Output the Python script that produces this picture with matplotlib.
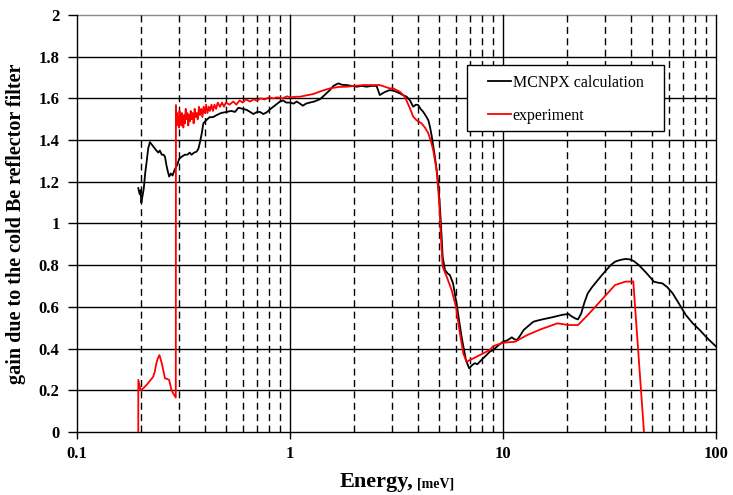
import matplotlib
matplotlib.use("Agg")
import matplotlib.pyplot as plt
from matplotlib.patches import Rectangle
from matplotlib.ticker import FixedLocator, NullFormatter

# MCNPX calculation: energy [meV] and gain
mcnpx_energy = [
    0.194, 0.197, 0.199, 0.2005, 0.203, 0.206, 0.209, 0.212, 0.216, 0.220,
    0.224, 0.228, 0.232, 0.236, 0.241, 0.245, 0.250, 0.255, 0.259, 0.263,
    0.267, 0.271, 0.276, 0.281, 0.288, 0.295, 0.302, 0.310, 0.321, 0.330,
    0.338, 0.345, 0.355, 0.365, 0.372, 0.378, 0.385, 0.392, 0.400, 0.409,
    0.420, 0.435, 0.453, 0.475, 0.504, 0.53, 0.552, 0.572, 0.60, 0.626,
    0.65, 0.673, 0.70, 0.723, 0.75, 0.777, 0.80, 0.835, 0.87, 0.898,
    0.93, 0.96, 1.0, 1.04, 1.075, 1.114, 1.15, 1.19, 1.24, 1.30,
    1.383, 1.45, 1.54, 1.60, 1.686, 1.76, 1.846, 1.95, 2.06, 2.17,
    2.29, 2.42, 2.55, 2.64, 2.78, 2.94, 3.1, 3.28, 3.4, 3.53,
    3.66, 3.79, 3.90, 4.0, 4.1, 4.22, 4.35, 4.46, 4.54, 4.62,
    4.79, 4.97, 5.10, 5.21, 5.34, 5.5, 5.63, 5.83, 6.05, 6.39,
    6.70, 6.94, 7.15, 7.38, 7.58, 7.78, 8.0, 8.37, 8.66, 9.0,
    9.5, 10.0, 10.5, 11.0, 11.3, 11.64, 12.0, 12.5, 13.2, 13.9,
    14.6, 15.3, 16.15, 17.0, 18.0, 19.0, 20.3, 20.9, 21.8, 22.5,
    23.3, 24.1, 25.0, 26.2, 27.5, 29.0, 30.6, 32.0, 33.6, 35.5,
    37.5, 39.3, 41.1, 43.5, 46.5, 48.8, 51.1, 53.5, 56.0, 59.0,
    62.6, 67.0, 72.2, 77.5, 83.9, 91.0, 100.0,
]
mcnpx_gain = [
    1.17, 1.14, 1.16, 1.10, 1.13, 1.17, 1.24, 1.29, 1.36, 1.39,
    1.38, 1.37, 1.36, 1.35, 1.34, 1.35, 1.33, 1.33, 1.32, 1.28,
    1.25, 1.225, 1.24, 1.23, 1.26, 1.28, 1.31, 1.32, 1.33, 1.33,
    1.34, 1.33, 1.34, 1.345, 1.36, 1.39, 1.43, 1.48, 1.49, 1.50,
    1.51, 1.51, 1.52, 1.53, 1.535, 1.54, 1.535, 1.555, 1.55, 1.545,
    1.535, 1.525, 1.535, 1.535, 1.525, 1.533, 1.545, 1.56, 1.575, 1.585,
    1.59, 1.58, 1.58, 1.575, 1.585, 1.575, 1.565, 1.575, 1.58, 1.585,
    1.596, 1.615, 1.64, 1.66, 1.672, 1.665, 1.664, 1.66, 1.656, 1.66,
    1.656, 1.66, 1.66, 1.616, 1.63, 1.64, 1.635, 1.624, 1.615, 1.608,
    1.59, 1.56, 1.57, 1.568, 1.55, 1.536, 1.515, 1.496, 1.464, 1.424,
    1.32, 1.193, 1.017, 0.84, 0.777, 0.76, 0.753, 0.713, 0.617, 0.457,
    0.345, 0.305, 0.32, 0.33, 0.325, 0.337, 0.35, 0.369, 0.385, 0.393,
    0.415, 0.433, 0.44, 0.454, 0.445, 0.441, 0.46, 0.489, 0.51, 0.529,
    0.535, 0.54, 0.545, 0.55, 0.556, 0.562, 0.566, 0.556, 0.545, 0.54,
    0.569, 0.62, 0.665, 0.695, 0.721, 0.75, 0.777, 0.80, 0.817, 0.825,
    0.83, 0.828, 0.82, 0.80, 0.769, 0.745, 0.721, 0.716, 0.713, 0.695,
    0.665, 0.615, 0.561, 0.523, 0.489, 0.45, 0.41,
]

# Experiment: energy [meV] and gain
exp_energy = [
    0.194, 0.1941, 0.196, 0.199, 0.205, 0.212, 0.220, 0.228, 0.232, 0.236,
    0.240, 0.244, 0.247, 0.250, 0.255, 0.259, 0.265, 0.271, 0.275, 0.278,
    0.285, 0.291, 0.2915, 0.2935, 0.295, 0.297, 0.299, 0.301, 0.303, 0.305,
    0.307, 0.309, 0.311, 0.313, 0.316, 0.318, 0.321, 0.324, 0.327, 0.330,
    0.333, 0.336, 0.339, 0.342, 0.345, 0.349, 0.353, 0.357, 0.361, 0.365,
    0.369, 0.374, 0.378, 0.383, 0.388, 0.393, 0.398, 0.404, 0.410, 0.416,
    0.421, 0.428, 0.435, 0.442, 0.450, 0.458, 0.469, 0.48, 0.49, 0.50,
    0.52, 0.542, 0.56, 0.58, 0.60, 0.62, 0.65, 0.673, 0.70, 0.73,
    0.76, 0.80, 0.835, 0.87, 0.92, 0.97, 1.0, 1.075, 1.114, 1.2,
    1.287, 1.40, 1.54, 1.70, 1.846, 2.0, 2.21, 2.55, 2.64, 2.94,
    3.05, 3.28, 3.46, 3.66, 3.79, 3.93, 4.15, 4.30, 4.46, 4.60,
    4.70, 4.88, 5.02, 5.11, 5.21, 5.44, 5.74, 6.01, 6.28, 6.51,
    6.74, 7.52, 8.66, 9.0, 10.0, 11.4, 13.0, 15.0, 18.0, 20.3,
    22.5, 25.0, 29.0, 33.6, 37.5, 40.9, 45.9,
]
exp_gain = [
    0.0, 0.25, 0.23, 0.20, 0.21, 0.225, 0.245, 0.265, 0.29, 0.33,
    0.355, 0.369, 0.35, 0.33, 0.29, 0.257, 0.255, 0.249, 0.22, 0.20,
    0.18, 0.165, 1.568, 1.47, 1.53, 1.49, 1.51, 1.46, 1.54, 1.48,
    1.52, 1.47, 1.53, 1.49, 1.46, 1.52, 1.48, 1.55, 1.50, 1.53,
    1.47, 1.52, 1.49, 1.54, 1.50, 1.53, 1.48, 1.55, 1.51, 1.53,
    1.50, 1.56, 1.52, 1.55, 1.51, 1.56, 1.53, 1.57, 1.53, 1.56,
    1.54, 1.57, 1.54, 1.57, 1.55, 1.58, 1.56, 1.58, 1.56, 1.58,
    1.57, 1.585, 1.57, 1.59, 1.58, 1.595, 1.585, 1.595, 1.59, 1.60,
    1.595, 1.605, 1.60, 1.605, 1.60, 1.61, 1.605, 1.608, 1.608, 1.615,
    1.621, 1.635, 1.648, 1.655, 1.656, 1.66, 1.664, 1.664, 1.664, 1.648,
    1.648, 1.632, 1.608, 1.552, 1.512, 1.495, 1.48, 1.46, 1.433, 1.39,
    1.353, 1.257, 1.097, 0.937, 0.793, 0.745, 0.681, 0.601, 0.473, 0.377,
    0.337, 0.361, 0.393, 0.412, 0.428, 0.433, 0.465, 0.492, 0.521, 0.513,
    0.513, 0.561, 0.633, 0.705, 0.721, 0.722, 0.0,
]

x_ticks = [0.1, 1, 10, 100]
x_tick_labels = ["0.1", "1", "10", "100"]
y_ticks = [0, 0.2, 0.4, 0.6, 0.8, 1, 1.2, 1.4, 1.6, 1.8, 2]
y_tick_labels = ["0", "0.2", "0.4", "0.6", "0.8", "1", "1.2", "1.4", "1.6", "1.8", "2"]
series_labels = ["MCNPX calculation", "experiment"]

serif = ["Liberation Serif", "DejaVu Serif"]
plt.rcParams["font.family"] = serif

fig = plt.figure(figsize=(7.33, 4.95), dpi=100)
ax = fig.add_axes([0.105, 0.1273, 0.8718, 0.8424])
ax.set_xscale("log")
ax.set_xlim(0.1, 100)
ax.set_ylim(0, 2)

# grid: solid horizontals, solid decades, dashed minor verticals
for yv in y_ticks[1:-1]:
    ax.axhline(yv, color="black", lw=1.0, zorder=1)
ax.axhline(2, color="#8a8a8a", lw=1.0, zorder=1, clip_on=False)
minor_x = [m * d for d in (0.1, 1, 10) for m in range(2, 10)]
for xv in minor_x:
    ax.axvline(xv, color="black", lw=1.0, dashes=(5, 3.2), zorder=1)
for xv in x_ticks[1:]:
    ax.axvline(xv, color="black", lw=1.0, zorder=1, clip_on=False)

l1, = ax.plot(mcnpx_energy, mcnpx_gain, color="black", lw=1.3, zorder=3,
              label=series_labels[0])
l2, = ax.plot(exp_energy, exp_gain, color="#ff0000", lw=1.3, zorder=4,
              label=series_labels[1])

for s in ("top", "right"):
    ax.spines[s].set_visible(False)
ax.spines["left"].set_linewidth(1.0)
ax.spines["bottom"].set_linewidth(1.0)

ax.xaxis.set_major_locator(FixedLocator(x_ticks))
ax.set_xticklabels(x_tick_labels)
ax.xaxis.set_minor_locator(FixedLocator(minor_x))
ax.xaxis.set_minor_formatter(NullFormatter())
ax.set_yticks(y_ticks)
ax.set_yticklabels(y_tick_labels)
ax.tick_params(axis="y", which="major", direction="out", length=6.5,
               width=1.0, labelsize=12, pad=6)
ax.tick_params(axis="x", which="major", direction="out", length=5,
               width=1.0, labelsize=12, pad=5)
ax.tick_params(axis="x", which="minor", length=0)
for lab in ax.get_xticklabels() + ax.get_yticklabels():
    lab.set_fontweight("bold")

ax.set_ylabel("gain due to the cold Be reflector filter", fontsize=14.5,
              fontweight="bold", labelpad=9)

# x-axis title in two sizes
fig.text(0.5645, 0.016, "Energy,", fontsize=16, fontweight="bold",
         ha="right", va="baseline")
fig.text(0.5685, 0.016, "[meV]", fontsize=10, fontweight="bold",
         ha="left", va="baseline")

# legend box and entries
ax.add_patch(Rectangle((467 / 733, 1 - 131 / 495), 197 / 733, 66 / 495,
                       transform=fig.transFigure, facecolor="white",
                       edgecolor="black", lw=1.0, zorder=5, clip_on=False))
leg = ax.legend(handles=[l1, l2], loc="upper left",
                bbox_to_anchor=(488 / 733, 1 - 75 / 495),
                bbox_transform=fig.transFigure, frameon=False,
                fontsize=11.5, handlelength=1.45, handletextpad=0.1,
                labelspacing=1.05, borderpad=0.0, borderaxespad=0.0)
leg.set_zorder(6)

fig.savefig("out.png", dpi=100)
